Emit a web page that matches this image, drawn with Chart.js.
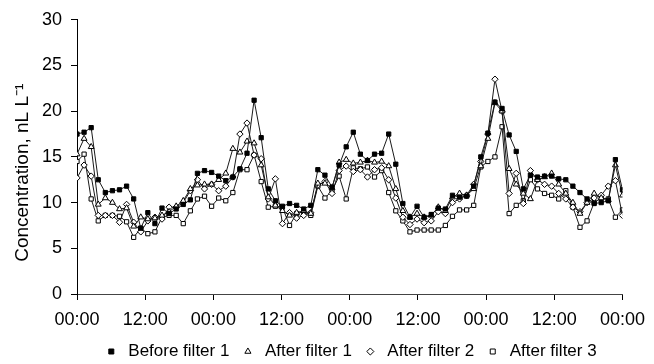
<!DOCTYPE html>
<html>
<head>
<meta charset="utf-8">
<script src="https://cdn.jsdelivr.net/npm/chart.js@4.4.0/dist/chart.umd.min.js"></script>
<style>
    html, body { margin: 0; padding: 0; background: #fff; }
    #wrap { width: 654px; height: 364px; overflow: hidden; }
</style>
</head>
<body>
<div id="wrap"><canvas id="line-chart" width="654" height="364"></canvas></div>
<script>
// readings, roughly every 1.25 h over four days
var before1 = [17.5, 17.7, 18.2, 12.5, 11.1, 11.3, 11.4, 11.8, 10.4, 7.2, 8.9, 7.7, 9.4, 8.8, 9.3, 9.8, 10.3, 13.2, 13.5, 13.3, 12.9, 12.4, 12.8, 13.7, 15.4, 21.2, 17.1, 11.5, 10.2, 9.6, 9.9, 9.7, 9.3, 9.7, 13.6, 13.0, 11.7, 14.1, 16.1, 17.7, 15.3, 14.6, 15.3, 15.4, 17.5, 14.2, 9.9, 8.4, 9.6, 8.4, 8.7, 9.4, 9.3, 10.8, 10.6, 10.7, 11.8, 15.0, 17.6, 21.0, 20.3, 17.4, 15.6, 11.5, 13.0, 12.8, 12.9, 12.9, 12.6, 12.5, 11.8, 11.1, 10.4, 9.9, 10.0, 10.2, 14.7, 11.4];
var after1 = [15.3, 17.0, 16.1, 9.8, 10.5, 10.0, 9.3, 9.4, 7.4, 8.4, 8.2, 8.3, 8.6, 9.0, 9.6, 10.2, 11.5, 11.9, 12.0, 12.0, 12.5, 13.2, 15.9, 15.5, 16.7, 16.5, 14.1, 10.6, 9.7, 9.1, 8.6, 8.9, 9.1, 8.8, 12.1, 12.1, 11.6, 14.4, 14.7, 14.3, 14.4, 14.6, 14.4, 14.5, 14.0, 11.5, 9.1, 8.4, 8.8, 8.4, 8.6, 9.5, 9.1, 10.6, 11.0, 10.8, 11.5, 14.0, 17.0, 20.9, 20.0, 13.7, 12.0, 11.0, 10.4, 12.5, 12.8, 13.2, 12.0, 11.0, 10.0, 8.8, 10.0, 11.0, 10.5, 10.3, 14.1, 10.8];
var after2 = [12.7, 14.1, 12.9, 8.6, 8.6, 8.6, 7.85, 9.8, 7.85, 6.8, 8.0, 8.4, 8.2, 9.5, 9.5, 10.0, 11.3, 12.5, 11.5, 12.0, 11.3, 11.8, 12.8, 17.5, 18.7, 15.2, 14.8, 10.4, 12.6, 7.7, 8.9, 8.3, 8.6, 8.9, 11.9, 12.3, 11.0, 13.5, 14.0, 13.4, 13.6, 12.8, 13.6, 13.8, 12.5, 10.5, 8.4, 7.6, 8.2, 7.8, 8.0, 9.0, 8.8, 10.0, 10.4, 10.8, 12.0, 14.5, 17.5, 23.5, 20.0, 11.0, 13.2, 9.9, 13.5, 12.5, 12.0, 11.8, 11.0, 10.4, 9.5, 9.0, 10.0, 10.5, 10.8, 11.8, 12.4, 8.6];
var after3 = [14.5, 15.3, 10.4, 8.0, 8.6, 8.6, 8.5, 7.9, 6.2, 7.2, 6.6, 6.8, 8.4, 8.6, 8.6, 7.7, 9.1, 10.4, 10.7, 9.6, 10.5, 10.2, 11.1, 13.6, 13.6, 15.2, 12.3, 9.5, 9.6, 9.5, 7.5, 8.8, 9.0, 8.6, 11.8, 10.5, 11.3, 12.9, 10.4, 13.8, 13.7, 13.9, 12.8, 13.5, 11.1, 9.1, 8.0, 6.8, 7.0, 7.0, 7.0, 7.0, 7.5, 8.5, 9.2, 9.2, 9.7, 13.9, 14.5, 15.0, 18.3, 8.8, 9.7, 10.2, 12.5, 11.5, 11.0, 10.8, 10.4, 11.3, 9.5, 7.3, 8.0, 10.0, 10.5, 10.4, 8.4, 9.2];

var tickLabels = ["00:00", "12:00", "00:00", "12:00", "00:00", "12:00", "00:00", "12:00", "00:00"];
var totalHours = 96;

var fontFamily = "'Liberation Sans', Arial, sans-serif";
var font = { family: fontFamily, size: 18 };

function toPoints(values) {
    return values.map(function (v, i) {
        return { x: i * totalHours / (values.length - 1), y: v };
    });
}

function series(label, values, style, fill) {
    return {
        label: label,
        data: toPoints(values),
        borderColor: '#1a1a1a',
        borderWidth: 1,
        pointStyle: style,
        pointRadius: style == 'triangle' ? 3.4 : (style == 'rectRot' ? 3.2 : 3),
        pointBackgroundColor: fill,
        pointBorderColor: '#000',
        pointBorderWidth: 1,
        tension: 0
    };
}

var ctx = document.getElementById('line-chart');
var chart = new Chart(ctx, {
    type: 'line',
    data: {
        datasets: [
            series('Before filter 1', before1, 'rect', '#000'),
            series('After filter 1', after1, 'triangle', '#fff'),
            series('After filter 2', after2, 'rectRot', '#fff'),
            series('After filter 3', after3, 'rect', '#fff')
        ]
    },
    options: {
        responsive: false,
        animation: false,
        devicePixelRatio: 1,
        layout: { padding: { left: 0, right: 2, top: 17, bottom: -6 } },
        plugins: {
            tooltip: { enabled: false },
            legend: {
                position: 'bottom',
                fullSize: false,
                labels: {
                    usePointStyle: true,
                    boxHeight: 5,
                    color: '#000',
                    padding: 10,
                    font: { family: fontFamily, size: 17 }
                }
            }
        },
        scales: {
            x: {
                type: 'linear',
                min: 0,
                max: totalHours,
                grid: { display: true, drawOnChartArea: false, drawTicks: true, tickLength: 6, color: '#000' },
                border: { display: true, color: '#444' },
                ticks: {
                    stepSize: 12,
                    color: '#000',
                    font: font,
                    padding: 9,
                    maxRotation: 0,
                    callback: function (value, index) { return tickLabels[index]; }
                },
                afterFit: function (s) {
                    s.height = 39;
                }
            },
            y: {
                min: 0,
                max: 30,
                grid: { display: true, drawOnChartArea: false, drawTicks: true, tickLength: 6, color: '#000' },
                border: { display: true, color: '#000' },
                ticks: { stepSize: 5, color: '#000', font: font, padding: 9 },
                title: {
                    display: true,
                    // trailing spaces push the label down, as in the original
                    text: 'Concentration, nL L⁻¹      ',
                    color: '#000',
                    font: { family: fontFamily, size: 19 },
                    padding: { top: 11, bottom: 4 }
                },
                afterFit: function (s) {
                    s.width = 77;
                }
            }
        }
    }
});
</script>
</body>
</html>
